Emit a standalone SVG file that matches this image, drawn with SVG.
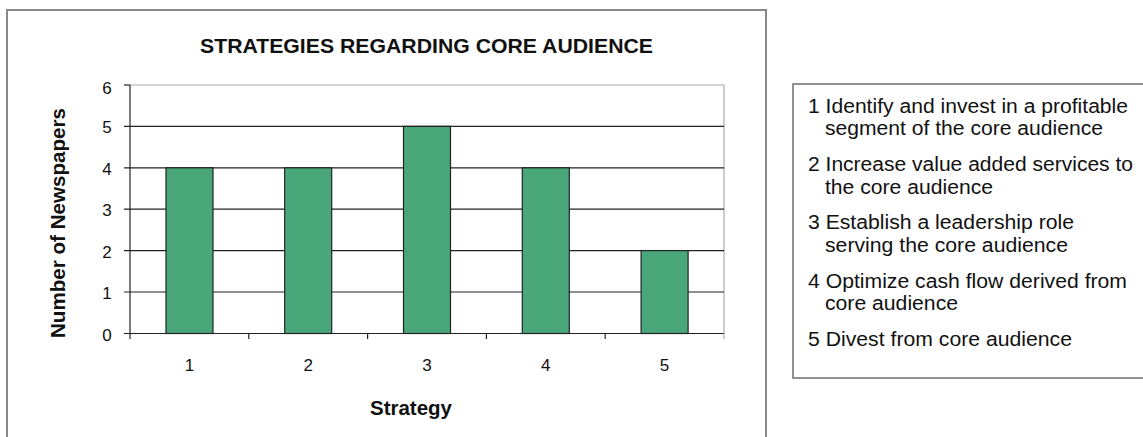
<svg xmlns="http://www.w3.org/2000/svg" width="1143" height="437" viewBox="0 0 1143 437">
  <style>
    .t { font-family: "Liberation Sans", Arial, sans-serif; fill: #111; }
    .b { font-weight: bold; }
    .grid { stroke: #222; stroke-width: 1.2; }
    .bar { fill: #4AA779; stroke: #222; stroke-width: 1.2; }
    .leg { font-size: 19.5px; }
    .num { font-size: 17px; text-anchor: middle; }
  </style>
  <rect width="1143" height="437" fill="#fff"/>
  <g id="chart-frame">
    <rect x="7" y="10" width="759" height="445" fill="#fff" stroke="#888" stroke-width="2"/>
  </g>
  <g id="title">
    <text class="t b" x="200" y="52.5" font-size="19.5" textLength="453" lengthAdjust="spacingAndGlyphs">STRATEGIES REGARDING CORE AUDIENCE</text>
  </g>
  <g id="plot">
    <rect x="130" y="85" width="594" height="248.5" fill="#fff"/>
    <line x1="130" y1="85" x2="724" y2="85" stroke="#aaa" stroke-width="1.2"/>
    <line x1="724" y1="85" x2="724" y2="333.5" stroke="#aaa" stroke-width="1.2"/>
    <line class="grid" x1="124" y1="126.4" x2="724" y2="126.4"/>
    <line class="grid" x1="124" y1="167.8" x2="724" y2="167.8"/>
    <line class="grid" x1="124" y1="209.2" x2="724" y2="209.2"/>
    <line class="grid" x1="124" y1="250.6" x2="724" y2="250.6"/>
    <line class="grid" x1="124" y1="292" x2="724" y2="292"/>
    <line class="grid" x1="124" y1="85" x2="130" y2="85"/>
    <line class="grid" x1="130" y1="85" x2="130" y2="333.5"/>
  </g>
  <g id="bars">
    <rect id="bar-1" class="bar" x="166" y="167.8" width="47" height="165.7"/>
    <rect id="bar-2" class="bar" x="284.7" y="167.8" width="47" height="165.7"/>
    <rect id="bar-3" class="bar" x="403.5" y="126.4" width="47" height="207.1"/>
    <rect id="bar-4" class="bar" x="522.3" y="167.8" width="47" height="165.7"/>
    <rect id="bar-5" class="bar" x="641.1" y="250.6" width="47" height="82.9"/>
  </g>
  <g id="x-axis">
    <line class="grid" x1="124" y1="333.5" x2="724" y2="333.5"/>
    <line class="grid" x1="130" y1="333.5" x2="130" y2="339"/>
    <line class="grid" x1="248.8" y1="333.5" x2="248.8" y2="339"/>
    <line class="grid" x1="367.6" y1="333.5" x2="367.6" y2="339"/>
    <line class="grid" x1="486.4" y1="333.5" x2="486.4" y2="339"/>
    <line class="grid" x1="605.2" y1="333.5" x2="605.2" y2="339"/>
    <line x1="724" y1="333.5" x2="724" y2="339" stroke="#aaa" stroke-width="1.2"/>
  </g>
  <g id="y-labels">
    <text class="t num" x="107" y="94">6</text>
    <text class="t num" x="107" y="133">5</text>
    <text class="t num" x="107" y="174.5">4</text>
    <text class="t num" x="107" y="216">3</text>
    <text class="t num" x="107" y="257.5">2</text>
    <text class="t num" x="107" y="298.5">1</text>
    <text class="t num" x="107" y="340.5">0</text>
  </g>
  <g id="x-labels">
    <text class="t num" x="189.4" y="370.5">1</text>
    <text class="t num" x="308.2" y="370.5">2</text>
    <text class="t num" x="427" y="370.5">3</text>
    <text class="t num" x="545.8" y="370.5">4</text>
    <text class="t num" x="664.6" y="370.5">5</text>
  </g>
  <g id="axis-titles">
    <text class="t b" x="370" y="414.5" font-size="19.5" textLength="82" lengthAdjust="spacingAndGlyphs">Strategy</text>
    <text class="t b" transform="translate(65,338) rotate(-90)" x="0" y="0" font-size="19.5" textLength="230" lengthAdjust="spacingAndGlyphs">Number of Newspapers</text>
  </g>
  <g id="legend">
    <rect x="793" y="84" width="360" height="294" fill="#fff" stroke="#777" stroke-width="1.6"/>
    <text class="t leg" x="808" y="112.7" textLength="320" lengthAdjust="spacingAndGlyphs">1 Identify and invest in a profitable</text>
    <text class="t leg" x="825" y="135.2" textLength="278" lengthAdjust="spacingAndGlyphs">segment of the core audience</text>
    <text class="t leg" x="808" y="171" textLength="325" lengthAdjust="spacingAndGlyphs">2 Increase value added services to</text>
    <text class="t leg" x="825" y="193.5" textLength="168" lengthAdjust="spacingAndGlyphs">the core audience</text>
    <text class="t leg" x="808" y="229.2" textLength="266" lengthAdjust="spacingAndGlyphs">3 Establish a leadership role</text>
    <text class="t leg" x="825" y="251.7" textLength="243" lengthAdjust="spacingAndGlyphs">serving the core audience</text>
    <text class="t leg" x="808" y="287.6" textLength="319" lengthAdjust="spacingAndGlyphs">4 Optimize cash flow derived from</text>
    <text class="t leg" x="825" y="310" textLength="133" lengthAdjust="spacingAndGlyphs">core audience</text>
    <text class="t leg" x="808" y="345.8" textLength="264" lengthAdjust="spacingAndGlyphs">5 Divest from core audience</text>
  </g>
</svg>
